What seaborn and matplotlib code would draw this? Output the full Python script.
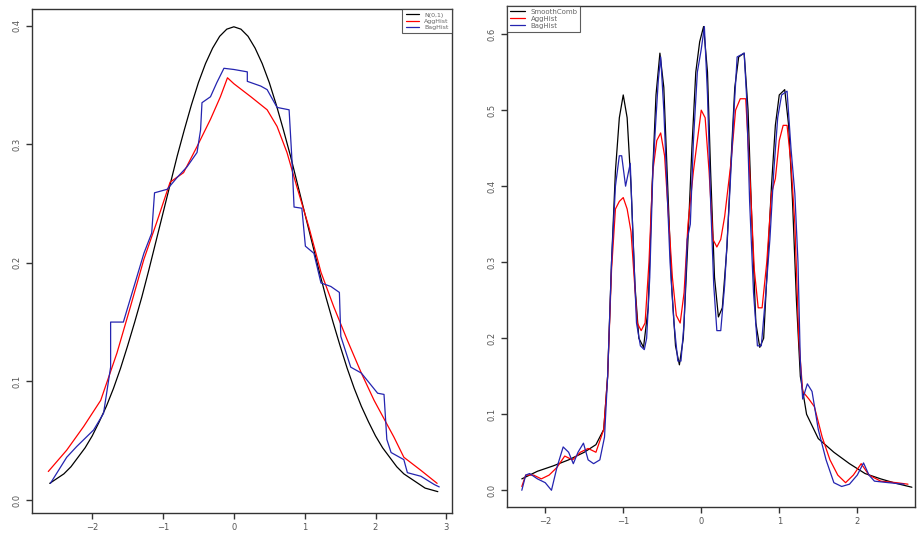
import numpy as np
import pandas as pd
import matplotlib
matplotlib.use("Agg")
import matplotlib.pyplot as plt
import seaborn as sns

# ---- left panel: N(0,1) sample ----
left_norm_x = [-2.6, -2.5, -2.4, -2.3, -2.2, -2.1, -2.0, -1.9, -1.8, -1.7, -1.6, -1.5, -1.4, -1.3, -1.2,
               -1.1, -1.0, -0.9, -0.8, -0.7, -0.6, -0.5, -0.4, -0.3, -0.2, -0.1, 0.0, 0.1, 0.2, 0.3, 0.4,
               0.5, 0.6, 0.7, 0.8, 0.9, 1.0, 1.1, 1.2, 1.3, 1.4, 1.5, 1.6, 1.7, 1.8, 1.9, 2.0, 2.1, 2.2,
               2.3, 2.4, 2.5, 2.6, 2.7, 2.88]
left_norm_y = [0.014, 0.018, 0.022, 0.028, 0.036, 0.044, 0.054, 0.066, 0.079, 0.094, 0.111, 0.130, 0.150, 0.171, 0.194,
               0.218, 0.242, 0.266, 0.290, 0.312, 0.333, 0.352, 0.368, 0.381, 0.391, 0.397, 0.399, 0.397, 0.391, 0.381, 0.368,
               0.352, 0.333, 0.312, 0.290, 0.266, 0.242, 0.218, 0.194, 0.171, 0.150, 0.130, 0.111, 0.094, 0.079, 0.066, 0.054, 0.044, 0.036,
               0.028, 0.022, 0.018, 0.014, 0.010, 0.007]

left_agg_x = [-2.62, -2.36, -2.12, -1.88, -1.65, -1.46, -1.27, -1.09, -0.9, -0.71, -0.52, -0.33, -0.19, -0.09,
              0.0, 0.24, 0.47, 0.61, 0.75, 0.89, 1.06, 1.23, 1.41, 1.6, 1.8, 1.98, 2.26, 2.4, 2.64, 2.87]
left_agg_y = [0.024, 0.042, 0.062, 0.084, 0.124, 0.163, 0.203, 0.234, 0.268, 0.276, 0.298, 0.321, 0.340, 0.356,
              0.351, 0.340, 0.329, 0.315, 0.293, 0.264, 0.230, 0.192, 0.163, 0.135, 0.107, 0.084, 0.053, 0.036, 0.025, 0.014]

left_bag_x = [-2.59, -2.36, -2.22, -1.98, -1.84, -1.74, -1.74, -1.56, -1.41, -1.27, -1.16, -1.12, -0.94, -0.8,
              -0.66, -0.52, -0.47, -0.45, -0.33, -0.24, -0.14, 0.0, 0.19, 0.19, 0.38, 0.47, 0.61, 0.78, 0.82,
              0.85, 0.96, 1.01, 1.13, 1.23, 1.37, 1.49, 1.51, 1.65, 1.8, 2.03, 2.12, 2.16, 2.22, 2.4, 2.45,
              2.64, 2.83, 2.9]
left_bag_y = [0.014, 0.036, 0.045, 0.059, 0.073, 0.112, 0.150, 0.150, 0.180, 0.208, 0.225, 0.259, 0.262, 0.272,
              0.281, 0.293, 0.312, 0.335, 0.340, 0.352, 0.364, 0.363, 0.361, 0.353, 0.349, 0.346, 0.331, 0.329, 0.287,
              0.247, 0.246, 0.214, 0.208, 0.183, 0.180, 0.175, 0.138, 0.112, 0.107, 0.090, 0.089, 0.051, 0.040, 0.034, 0.023,
              0.020, 0.013, 0.011]

# ---- right panel: mixture sample ----
right_smooth_x = [-2.3, -2.1, -1.9, -1.7, -1.5, -1.35, -1.25, -1.2, -1.15, -1.1, -1.05, -1.0, -0.95, -0.9,
                  -0.85, -0.8, -0.74, -0.68, -0.63, -0.58, -0.53, -0.48, -0.43, -0.38, -0.33, -0.28, -0.23,
                  -0.17, -0.12, -0.07, -0.02, 0.03, 0.08, 0.12, 0.17, 0.22, 0.27, 0.33, 0.38, 0.43, 0.48, 0.55,
                  0.6, 0.65, 0.7, 0.75, 0.8, 0.85, 0.9, 0.95, 1.0, 1.07, 1.12, 1.17, 1.22, 1.27, 1.35, 1.5, 1.7,
                  1.9, 2.1, 2.3, 2.5, 2.7]
right_smooth_y = [0.015, 0.025, 0.032, 0.040, 0.050, 0.060, 0.080, 0.150, 0.300, 0.420, 0.490, 0.520, 0.490, 0.400,
                  0.270, 0.200, 0.188, 0.240, 0.400, 0.520, 0.575, 0.530, 0.400, 0.270, 0.190, 0.165, 0.200,
                  0.330, 0.450, 0.550, 0.590, 0.610, 0.550, 0.420, 0.280, 0.228, 0.240, 0.320, 0.430, 0.530, 0.570, 0.575,
                  0.500, 0.350, 0.220, 0.188, 0.200, 0.300, 0.400, 0.480, 0.520, 0.527, 0.480, 0.380, 0.250, 0.150, 0.100, 0.068, 0.050,
                  0.035, 0.022, 0.015, 0.009, 0.004]

right_agg_x = [-2.3, -2.25, -2.15, -2.05, -1.95, -1.85, -1.75, -1.65, -1.55, -1.45, -1.35, -1.25, -1.2, -1.15,
               -1.1, -1.05, -1.0, -0.95, -0.9, -0.86, -0.82, -0.77, -0.72, -0.67, -0.62, -0.57, -0.52, -0.47,
               -0.42, -0.37, -0.32, -0.27, -0.22, -0.17, -0.1, -0.05, 0.0, 0.05, 0.1, 0.15, 0.2, 0.25, 0.3, 0.38,
               0.44, 0.5, 0.57, 0.62, 0.68, 0.73, 0.78, 0.84, 0.9, 0.95, 1.0, 1.05, 1.1, 1.15, 1.2, 1.25, 1.3,
               1.38, 1.45, 1.55, 1.65, 1.75, 1.85, 1.95, 2.05, 2.15, 2.3, 2.5, 2.65]
right_agg_y = [0.005, 0.020, 0.020, 0.015, 0.020, 0.030, 0.045, 0.040, 0.050, 0.055, 0.050, 0.080, 0.150, 0.290,
               0.370, 0.380, 0.385, 0.370, 0.340, 0.280, 0.220, 0.210, 0.220, 0.300, 0.420, 0.460, 0.470, 0.440,
               0.360, 0.280, 0.230, 0.220, 0.260, 0.350, 0.420, 0.460, 0.500, 0.490, 0.420, 0.330, 0.320, 0.330, 0.360, 0.430,
               0.500, 0.515, 0.515, 0.420, 0.290, 0.240, 0.240, 0.300, 0.390, 0.410, 0.460, 0.480, 0.480, 0.430, 0.350, 0.200, 0.130,
               0.120, 0.110, 0.070, 0.040, 0.020, 0.010, 0.020, 0.035, 0.020, 0.012, 0.010, 0.008]

right_bag_x = [-2.3, -2.25, -2.2, -2.1, -2.0, -1.92, -1.85, -1.77, -1.7, -1.64, -1.58, -1.51, -1.45, -1.38,
               -1.3, -1.24, -1.2, -1.15, -1.1, -1.05, -1.02, -0.97, -0.91, -0.87, -0.83, -0.78, -0.73, -0.7,
               -0.66, -0.62, -0.58, -0.55, -0.52, -0.48, -0.44, -0.4, -0.35, -0.3, -0.26, -0.22, -0.18, -0.14,
               -0.1, -0.05, 0.0, 0.04, 0.08, 0.12, 0.16, 0.2, 0.25, 0.3, 0.36, 0.42, 0.46, 0.55, 0.58, 0.62,
               0.67, 0.72, 0.77, 0.82, 0.88, 0.93, 0.98, 1.03, 1.1, 1.15, 1.2, 1.24, 1.27, 1.3, 1.36, 1.42,
               1.5, 1.6, 1.7, 1.8, 1.9, 2.0, 2.08, 2.15, 2.22, 2.4, 2.6]
right_bag_y = [0.000, 0.020, 0.022, 0.015, 0.010, 0.000, 0.030, 0.057, 0.050, 0.035, 0.050, 0.062, 0.040, 0.035,
               0.040, 0.070, 0.150, 0.300, 0.400, 0.440, 0.440, 0.400, 0.430, 0.320, 0.220, 0.190, 0.185, 0.200,
               0.280, 0.420, 0.490, 0.540, 0.570, 0.500, 0.400, 0.300, 0.220, 0.170, 0.170, 0.220, 0.330, 0.350,
               0.460, 0.550, 0.580, 0.610, 0.520, 0.380, 0.270, 0.210, 0.210, 0.270, 0.380, 0.500, 0.570, 0.575, 0.520, 0.380,
               0.260, 0.190, 0.190, 0.250, 0.330, 0.420, 0.490, 0.520, 0.525, 0.450, 0.390, 0.300, 0.170, 0.120, 0.140, 0.130,
               0.080, 0.040, 0.010, 0.005, 0.008, 0.020, 0.036, 0.020, 0.012, 0.010, 0.008]

left_labels = ["N(0,1)", "AggHist", "BagHist"]
right_labels = ["SmoothComb", "AggHist", "BagHist"]
colors = ["black", "red", "#2424b0"]

sns.set_style("white")
plt.rcParams['font.family'] = ['DejaVu Sans']

fig = plt.figure(figsize=(9.19, 5.38), dpi=100)
W, H = 919, 538
ax1 = fig.add_axes([32 / W, (H - 513) / H, (452 - 32) / W, (513 - 9) / H])
ax2 = fig.add_axes([507 / W, (H - 507) / H, (915 - 507) / W, (507 - 6) / H])


def draw(ax, series, labels):
    for (xs, ys), lab, col in zip(series, labels, colors):
        df = pd.DataFrame({"x": xs, "y": ys})
        sns.lineplot(data=df, x="x", y="y", ax=ax, sort=False, estimator=None,
                     color=col, linewidth=0.9, label=lab)
    ax.set_xlabel("")
    ax.set_ylabel("")
    for s in ax.spines.values():
        s.set_color("#333333")
        s.set_linewidth(1.0)
    ax.tick_params(axis="both", direction="out", length=4, width=1.0, color="#333333",
                   labelsize=6, labelcolor="#555555", bottom=True, left=True)


draw(ax1, [(left_norm_x, left_norm_y), (left_agg_x, left_agg_y), (left_bag_x, left_bag_y)], left_labels)
ax1.set_xlim(-2.85, 3.08)
ax1.set_ylim(-0.011, 0.414)
ax1.set_xticks([-2, -1, 0, 1, 2, 3])
ax1.set_yticks([0.0, 0.1, 0.2, 0.3, 0.4])
ax1.set_yticklabels(["0.0", "0.1", "0.2", "0.3", "0.4"], rotation=90, va="center")
leg1 = ax1.legend(loc="upper right", fontsize=4.5, frameon=True, fancybox=False,
                  borderaxespad=0.0, handlelength=2.2, labelspacing=0.15, borderpad=0.5)
leg1.get_frame().set_edgecolor("#333333")
leg1.get_frame().set_linewidth(0.8)
for t in leg1.get_texts():
    t.set_color("#666666")

draw(ax2, [(right_smooth_x, right_smooth_y), (right_agg_x, right_agg_y), (right_bag_x, right_bag_y)], right_labels)
ax2.set_xlim(-2.49, 2.74)
ax2.set_ylim(-0.022, 0.637)
ax2.set_xticks([-2, -1, 0, 1, 2])
ax2.set_yticks([0.0, 0.1, 0.2, 0.3, 0.4, 0.5, 0.6])
ax2.set_yticklabels(["0.0", "0.1", "0.2", "0.3", "0.4", "0.5", "0.6"], rotation=90, va="center")
leg2 = ax2.legend(loc="upper left", fontsize=5, frameon=True, fancybox=False,
                  borderaxespad=0.0, handlelength=2.2, labelspacing=0.15, borderpad=0.4)
leg2.get_frame().set_edgecolor("#333333")
leg2.get_frame().set_linewidth(0.8)
for t in leg2.get_texts():
    t.set_color("#666666")

fig.savefig("out.png", dpi=100, facecolor="white")
